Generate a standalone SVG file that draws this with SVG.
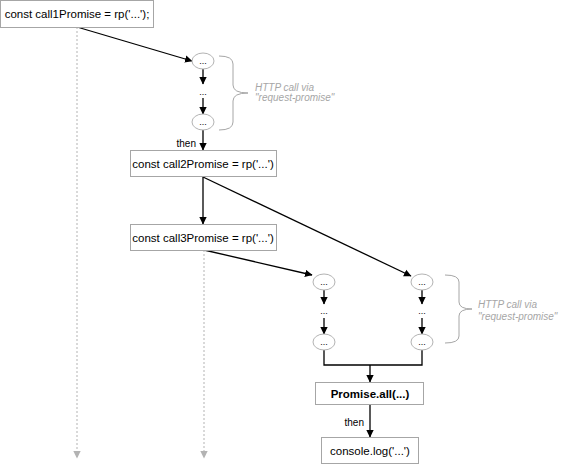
<svg xmlns="http://www.w3.org/2000/svg" width="568" height="476" viewBox="0 0 568 476">
<defs>
<marker id="ah" markerWidth="9" markerHeight="9" refX="7" refY="4" orient="auto" markerUnits="userSpaceOnUse">
<path d="M0,0.3 L7.5,4 L0,7.7 Z" fill="#000"/>
</marker>
<marker id="ahg" markerWidth="9" markerHeight="9" refX="7" refY="4" orient="auto" markerUnits="userSpaceOnUse">
<path d="M0,0.3 L7.5,4 L0,7.7 Z" fill="#b3b3b3"/>
</marker>
</defs>
<style>
.box{fill:#fff;stroke:#a6a6a6;stroke-width:1}
.ell{fill:#fff;stroke:#b3b3b3;stroke-width:1}
.t{font-family:"Liberation Sans",Arial,sans-serif;font-size:11.5px;fill:#000;text-anchor:middle}
.s{font-family:"Liberation Sans",Arial,sans-serif;font-size:9px;fill:#000;text-anchor:middle}
.lbl{font-family:"Liberation Sans",Arial,sans-serif;font-size:10px;fill:#000;text-anchor:end}
.note{font-family:"Liberation Sans",Arial,sans-serif;font-size:10px;font-style:italic;fill:#a6a6a6}
.c{fill:none;stroke:#000;stroke-width:1.3;marker-end:url(#ah)}
.cn{fill:none;stroke:#000;stroke-width:1.3}
.d{fill:none;stroke:#b3b3b3;stroke-width:1;stroke-dasharray:2,2;marker-end:url(#ahg)}
.br{fill:none;stroke:#a6a6a6;stroke-width:1}
</style>
<g id="connectors">
<path class="d" d="M77,27 L77,458"/>
<path class="d" d="M204,250 L204,458"/>
<path class="c" d="M77,27 L192,61"/>
<path class="c" d="M203,69 L203,84"/>
<path class="c" d="M203,98 L203,114"/>
<path class="c" d="M203,130 L203,150"/>
<path class="c" d="M203,177 L203,224"/>
<path class="c" d="M203,177 L411,276"/>
<path class="c" d="M204,250 L312,275"/>
<path class="c" d="M324,290 L324,304"/>
<path class="c" d="M324,318 L324,334"/>
<path class="c" d="M422,290 L422,304"/>
<path class="c" d="M422,318 L422,334"/>
<path class="cn" d="M324,350 L324,365 L422,365 L422,350"/>
<path class="c" d="M370,365 L370,382"/>
<path class="c" d="M370,404 L370,437"/>
<text class="lbl" x="196" y="147">then</text>
<text class="lbl" x="364" y="426">then</text>
</g>
<g id="call1">
<rect class="box" x="0.5" y="0.5" width="153" height="27"/>
<text class="t" x="77" y="18">const call1Promise = rp('...');</text>
</g>
<g id="http1">
<ellipse class="ell" cx="203" cy="61" rx="11" ry="8"/>
<text class="s" x="203" y="64">...</text>
<text class="s" x="203" y="95">...</text>
<ellipse class="ell" cx="203" cy="122" rx="11" ry="8"/>
<text class="s" x="203" y="125">...</text>
<path class="br" d="M219,56 Q233,56 233,64 L233,85 Q233,93 248,93 Q233,93 233,101 L233,122 Q233,130 219,130"/>
<text class="note" x="255" y="91">HTTP call via</text>
<text class="note" x="255" y="101">"request-promise"</text>
</g>
<g id="call2">
<rect class="box" x="130.5" y="150.5" width="146" height="26"/>
<text class="t" x="203" y="168">const call2Promise = rp('...')</text>
</g>
<g id="call3">
<rect class="box" x="130.5" y="224.5" width="146" height="26"/>
<text class="t" x="203" y="242">const call3Promise = rp('...')</text>
</g>
<g id="http3">
<ellipse class="ell" cx="324" cy="282" rx="11" ry="8"/>
<text class="s" x="324" y="285">...</text>
<text class="s" x="324" y="314">...</text>
<ellipse class="ell" cx="324" cy="342" rx="11" ry="8"/>
<text class="s" x="324" y="345">...</text>
</g>
<g id="http2">
<ellipse class="ell" cx="422" cy="282" rx="11" ry="8"/>
<text class="s" x="422" y="285">...</text>
<text class="s" x="422" y="314">...</text>
<ellipse class="ell" cx="422" cy="342" rx="11" ry="8"/>
<text class="s" x="422" y="345">...</text>
<path class="br" d="M445,275 Q459,275 459,282 L459,302 Q459,309 472,309 Q459,309 459,316 L459,336 Q459,343 445,343"/>
<text class="note" x="478" y="308">HTTP call via</text>
<text class="note" x="478" y="320">"request-promise"</text>
</g>
<g id="promiseAll">
<rect class="box" x="315.5" y="382.5" width="108" height="22"/>
<text class="t" x="370" y="398" style="font-size:11.5px;font-weight:bold">Promise.all(...)</text>
</g>
<g id="consoleLog">
<rect class="box" x="321.5" y="437.5" width="97" height="26"/>
<text class="t" x="370" y="455">console.log('...')</text>
</g>
</svg>
